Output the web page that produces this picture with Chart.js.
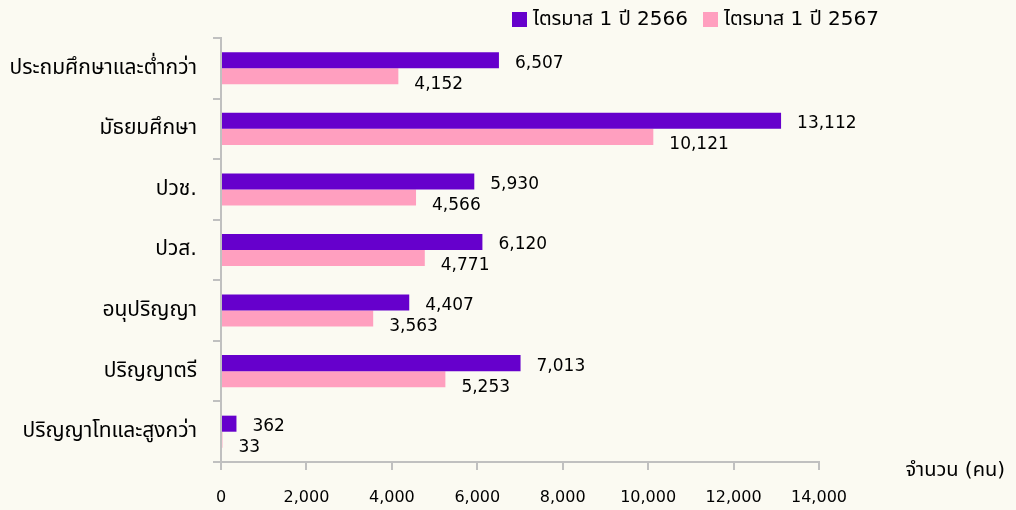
<!DOCTYPE html>
<html lang="th">
<head>
<meta charset="UTF-8">
<title>จำนวนผู้มีงานทำ</title>
<script src="https://cdn.jsdelivr.net/npm/chart.js@4"></script>
<style>
  html, body { margin: 0; padding: 0; background: #fbfaf2; }
  #wrap { position: relative; width: 1016px; height: 510px; }
</style>
</head>
<body>
<div id="wrap"><canvas id="eduChart"></canvas></div>
<script>
  // education levels (y axis)
  const levels = ['ประถมศึกษาและต่ำกว่า', 'มัธยมศึกษา', 'ปวช.', 'ปวส.', 'อนุปริญญา', 'ปริญญาตรี', 'ปริญญาโทและสูงกว่า'];
  const seriesNames = ['ไตรมาส 1 ปี 2566', 'ไตรมาส 1 ปี 2567'];
  const q1_2566 = [6507, 13112, 5930, 6120, 4407, 7013, 362];
  const q1_2567 = [4152, 10121, 4566, 4771, 3563, 5253, 33];
  const xTicks = [0, 2000, 4000, 6000, 8000, 10000, 12000, 14000];
  const axisTitle = 'จำนวน (คน)';

  const FONT = "'DejaVu Sans', 'Noto Sans Thai', Tahoma, sans-serif";
  const fmt = v => v.toLocaleString('en-US');

  // legend, value labels at the end of each bar, axis title on the right
  const extras = {
    id: 'extras',
    afterDatasetsDraw(chart) {
      const ctx = chart.ctx;
      ctx.save();
      ctx.fillStyle = '#000';
      ctx.textBaseline = 'middle';
      ctx.textAlign = 'left';

      // legend (own drawing so spacing matches the original)
      const legendX = [512, 703];
      ctx.font = '20px ' + FONT;
      chart.data.datasets.forEach((ds, i) => {
        ctx.fillStyle = ds.backgroundColor;
        ctx.fillRect(legendX[i], 12, 15, 15);
        ctx.fillStyle = '#000';
        ctx.fillText(ds.label, legendX[i] + 21, 20);
      });

      ctx.font = '17px ' + FONT;
      chart.data.datasets.forEach((ds, i) => {
        chart.getDatasetMeta(i).data.forEach((bar, j) => {
          ctx.fillText(fmt(ds.data[j]), bar.x + 16, bar.y + (i === 0 ? 3 : 8));
        });
      });

      const xs = chart.scales.x;
      ctx.font = '20px ' + FONT;
      ctx.textAlign = 'right';
      ctx.fillText(axisTitle, 1005, xs.top + 9);
      ctx.restore();
    }
  };

  new Chart(document.getElementById('eduChart'), {
    type: 'bar',
    data: {
      labels: levels,
      datasets: [
        { label: seriesNames[0], data: q1_2566, backgroundColor: '#6600cc' },
        { label: seriesNames[1], data: q1_2567, backgroundColor: '#ff9fbf' }
      ]
    },
    options: {
      indexAxis: 'y',
      responsive: true,
      maintainAspectRatio: false,
      animation: false,
      layout: { padding: { top: 38, right: 197, left: 0, bottom: 0 } },
      datasets: { bar: { categoryPercentage: 0.53, barPercentage: 1.0 } },
      plugins: {
        legend: { display: false },
        tooltip: { enabled: false }
      },
      scales: {
        x: {
          min: 0, max: 14000,
          afterBuildTicks: s => { s.ticks = xTicks.map(v => ({ value: v })); },
          afterFit: s => { s.height = 48; },
          grid: { drawOnChartArea: false, drawTicks: true, tickLength: 8, color: '#c0c0c0', lineWidth: 2 },
          border: { color: '#c0c0c0', width: 2 },
          ticks: { color: '#000', font: { family: FONT, size: 16 }, padding: 18, maxRotation: 0, callback: v => fmt(v) }
        },
        y: {
          afterFit: s => { s.width = 221; },
          grid: { offset: true, drawOnChartArea: false, tickLength: 8, color: '#c0c0c0', lineWidth: 2 },
          border: { color: '#c0c0c0', width: 2 },
          ticks: { color: '#000', font: { family: FONT, size: 21 }, padding: 16 }
        }
      }
    },
    plugins: [extras]
  });
</script>
</body>
</html>
